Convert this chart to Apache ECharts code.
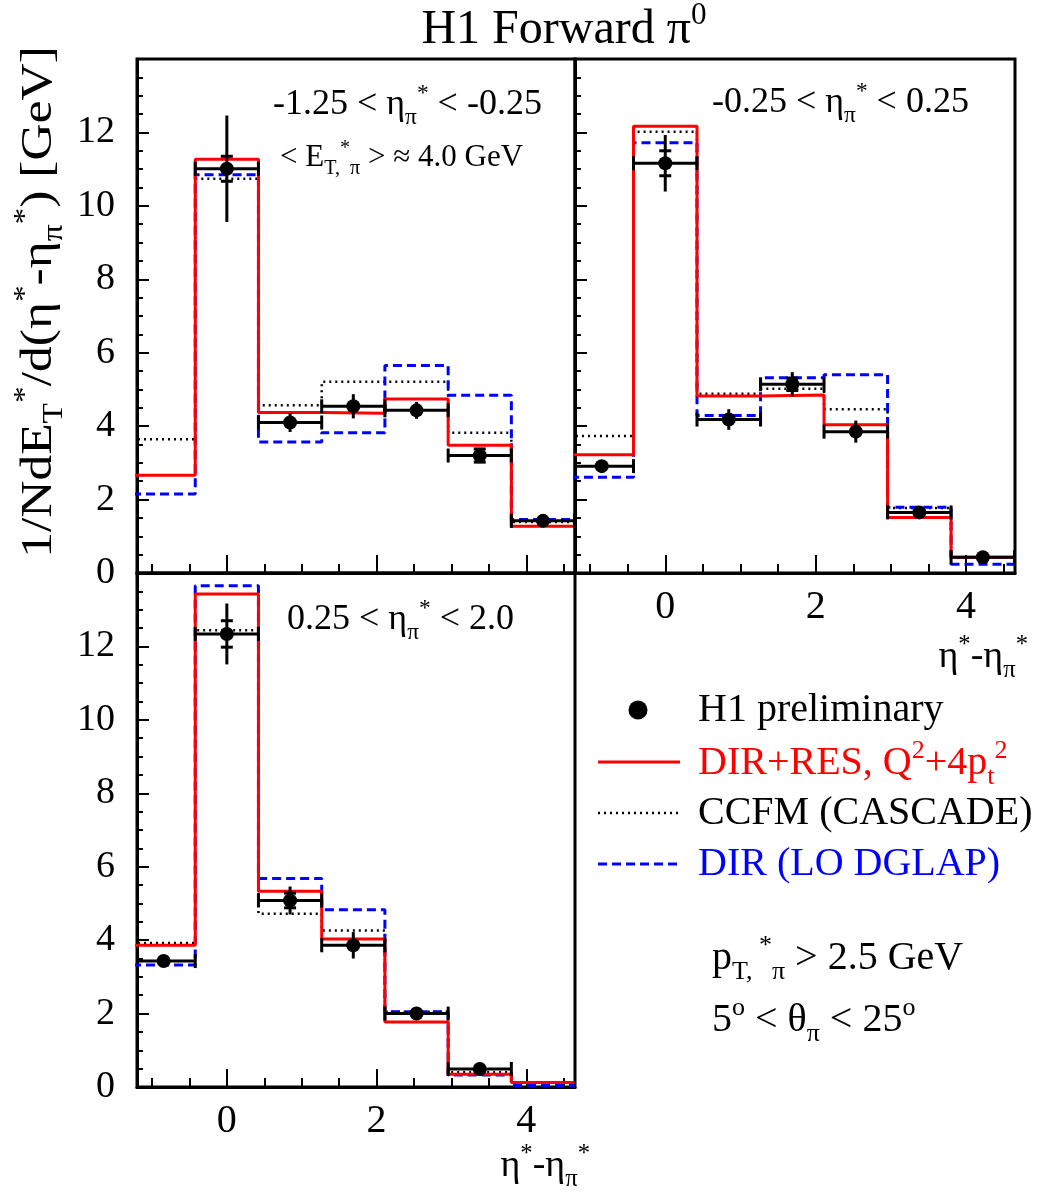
<!DOCTYPE html>
<html><head><meta charset="utf-8">
<script src="https://cdn.jsdelivr.net/npm/echarts@6/dist/echarts.min.js"></script>
<style>html,body{margin:0;padding:0;background:#fff}#c{width:1044px;height:1193px}</style>
</head><body><div id="c"></div>
<script>
// ---------- data ----------
const binEdges = [-1.267, -0.422, 0.422, 1.267, 2.111, 2.956, 3.8, 4.644];
const xMajorTicks = [0, 2, 4];
const xMinorTicks = [-1, -0.5, 0.5, 1, 1.5, 2.5, 3, 3.5, 4.5];
const yTickStep = 2;

// Panel A: -1.25 < eta_pi* < -0.25
const redA  = [2.66, 11.27, 4.37, 4.35, 4.74, 3.48, 1.27];
const ccfmA = [3.64, 10.74, 4.57, 5.21, 5.21, 3.82, 1.39];
const dirA  = [2.15, 10.85, 3.57, 3.82, 5.65, 4.84, 1.46];
const dataA = [null, 11.01, 4.10, 4.54, 4.43, 3.20, 1.42];
const totA  = [0, 1.45, 0.26, 0.33, 0.23, 0.20, 0.05];
const statA = [0, 0.34, 0, 0, 0, 0.18, 0];

// Panel B: -0.25 < eta_pi* < 0.25
const redB  = [3.22, 12.17, 4.82, 4.85, 4.04, 1.51, 0.43];
const ccfmB = [3.73, 12.02, 4.88, 5.02, 4.46, 1.77, 0.42];
const dirB  = [2.61, 11.72, 4.29, 5.32, 5.40, 1.79, 0.24];
const dataB = [2.91, 11.16, 4.18, 5.14, 3.85, 1.65, 0.43];
const totB  = [0.12, 0.77, 0.28, 0.33, 0.30, 0.12, 0.05];
const statB = [0, 0.34, 0, 0.17, 0, 0, 0];

// Panel C: 0.25 < eta_pi* < 2.0
const redC  = [3.86, 13.43, 5.33, 4.03, 1.77, 0.35, 0.12];
const ccfmC = [3.92, 12.44, 4.72, 4.26, 2.05, 0.40, 0.12];
const dirC  = [3.32, 13.65, 5.68, 4.83, 2.05, 0.33, 0.04];
const dataC = [3.43, 12.34, 5.08, 3.86, 2.00, 0.49, null];
const totC  = [0.12, 0.83, 0.38, 0.36, 0.12, 0.05, 0];
const statC = [0, 0.36, 0.20, 0, 0, 0, 0];

// ---------- build ----------
const FONT = "'Liberation Serif','Times New Roman',serif";
const panels = [
  {red: redA, ccfm: ccfmA, dir: dirA, data: dataA, tot: totA, stat: statA, grid: {left: 137, top: 59, width: 438, height: 514}, yLabels: true, xLabels: false},
  {red: redB, ccfm: ccfmB, dir: dirB, data: dataB, tot: totB, stat: statB, grid: {left: 575, top: 59, width: 440, height: 514}, yLabels: false, xLabels: true},
  {red: redC, ccfm: ccfmC, dir: dirC, data: dataC, tot: totC, stat: statC, grid: {left: 137, top: 573, width: 438, height: 514}, yLabels: true, xLabels: true}
];

function stepData(vals) {
  const d = vals.map((v, i) => [binEdges[i], v]);
  d.push([binEdges[binEdges.length - 1], vals[vals.length - 1]]);
  return d;
}
function centers() { return binEdges.slice(0, -1).map((e, i) => (e + binEdges[i + 1]) / 2); }

function errRender(params, api) {
  const x = api.value(0), y = api.value(1), xl = api.value(2), xh = api.value(3);
  const tl = api.value(4), th = api.value(5), sl = api.value(6), sh = api.value(7), hasStat = api.value(8);
  const pL = api.coord([xl, y]), pH = api.coord([xh, y]);
  const pTl = api.coord([x, tl]), pTh = api.coord([x, th]);
  const st = {stroke: '#000', lineWidth: 3};
  const ch = [
    {type: 'line', shape: {x1: pL[0], y1: pL[1], x2: pH[0], y2: pH[1]}, style: st},
    {type: 'line', shape: {x1: pL[0], y1: pL[1] - 7, x2: pL[0], y2: pL[1] + 7}, style: st},
    {type: 'line', shape: {x1: pH[0], y1: pH[1] - 7, x2: pH[0], y2: pH[1] + 7}, style: st},
    {type: 'line', shape: {x1: pTl[0], y1: pTl[1], x2: pTh[0], y2: pTh[1]}, style: st}
  ];
  if (hasStat) {
    const a = api.coord([x, sl]), b = api.coord([x, sh]);
    ch.push({type: 'line', shape: {x1: a[0] - 6, y1: a[1], x2: a[0] + 6, y2: a[1]}, style: st});
    ch.push({type: 'line', shape: {x1: b[0] - 6, y1: b[1], x2: b[0] + 6, y2: b[1]}, style: st});
  }
  return {type: 'group', children: ch};
}

const grids = [], xAxes = [], yAxes = [], series = [];
const axLine = {show: true, onZero: false, lineStyle: {color: '#000', width: 3}};
const tickStyle = {color: '#000', width: 2};
panels.forEach((p, i) => {
  grids.push(Object.assign({show: true, borderColor: '#000', borderWidth: 3, backgroundColor: 'transparent', outerBoundsMode: 'none'}, p.grid));
  xAxes.push({gridIndex: i, type: 'value', min: -1.2, max: 4.65, position: 'bottom',
    axisLine: axLine, splitLine: {show: false},
    axisTick: {show: true, inside: true, length: 18, customValues: xMajorTicks, lineStyle: tickStyle},
    axisLabel: {show: p.xLabels, customValues: xMajorTicks, margin: 14, fontSize: 40, color: '#000', fontFamily: FONT}});
  xAxes.push({gridIndex: i, type: 'value', min: -1.2, max: 4.65, position: 'bottom',
    axisLine: {show: false, onZero: false}, splitLine: {show: false},
    axisTick: {show: true, inside: true, length: 9, customValues: xMinorTicks, lineStyle: tickStyle},
    axisLabel: {show: false}});
  yAxes.push({gridIndex: i, type: 'value', min: 0, max: 14, interval: yTickStep,
    axisLine: axLine, splitLine: {show: false}, minorSplitLine: {show: false},
    axisTick: {show: true, inside: true, length: 12, lineStyle: tickStyle},
    minorTick: {show: true, splitNumber: 4, length: 6, lineStyle: tickStyle},
    axisLabel: {show: p.yLabels, margin: 22, fontSize: 38, color: '#000', fontFamily: FONT,
      formatter: v => (v > 13 ? '' : String(v))}});
  const base = {xAxisIndex: 2 * i, yAxisIndex: i, animation: false};
  series.push(Object.assign({type: 'line', step: 'end', symbol: 'none', z: 2, data: stepData(p.ccfm),
    lineStyle: {color: '#000', width: 2.5, type: [2, 4]}}, base));
  series.push(Object.assign({type: 'line', step: 'end', symbol: 'none', z: 3, data: stepData(p.dir),
    lineStyle: {color: '#0000ff', width: 3, type: [9, 5]}}, base));
  series.push(Object.assign({type: 'line', step: 'end', symbol: 'none', z: 4, data: stepData(p.red),
    lineStyle: {color: '#ff0000', width: 3}}, base));
  const c = centers();
  const errData = [], ptData = [];
  p.data.forEach((v, k) => {
    if (v === null) return;
    errData.push([c[k], v, binEdges[k], binEdges[k + 1], v - p.tot[k], v + p.tot[k], v - p.stat[k], v + p.stat[k], p.stat[k] > 0 ? 1 : 0]);
    ptData.push([c[k], v]);
  });
  series.push(Object.assign({type: 'custom', z: 5, clip: true, renderItem: errRender, data: errData}, base));
  series.push(Object.assign({type: 'scatter', z: 6, symbol: 'circle', symbolSize: 14, itemStyle: {color: '#000', opacity: 1}, data: ptData}, base));
});

// ---------- rich text helpers ----------
function rich(F, color) {
  return {
    m: {fontSize: F, lineHeight: 1.2 * F, fontFamily: FONT, fill: color, color: color},
    sup: {fontSize: 0.65 * F, verticalAlign: 'top', height: 0.6 * F, fontFamily: FONT, fill: color, color: color},
    sub: {fontSize: 0.65 * F, verticalAlign: 'bottom', height: 0.5 * F, fontFamily: FONT, fill: color, color: color}
  };
}
function txt(x, y, text, F, color, align, rot, sx) {
  return {type: 'text', x: x, y: y, rotation: rot || 0, scaleX: sx || 1, z: 100,
    style: {text: text, rich: rich(F, color), fill: color, font: F + 'px ' + FONT, align: align || 'left', verticalAlign: 'middle'}};
}

const graphics = [
  txt(564, 30, '{m|H1 Forward π}{sup|0}', 48, '#000', 'center'),
  txt(39, 302, '{m|1/NdE}{sub|T}{sup|*}{m|/d(η}{sup|*}{m|-η}{sub|π}{sup|*}{m|) [GeV]}', 44, '#000', 'center', Math.PI / 2, 1.17),
  txt(273, 105, '{m|-1.25 < η}{sub|π}{sup|*}{m| < -0.25}', 36, '#000', 'left'),
  txt(280, 158, '{m|< E}{sub|T,}{sup|*}{sub|π}{m| > ≈ 4.0 GeV}', 31, '#000', 'left'),
  txt(712, 103, '{m|-0.25 < η}{sub|π}{sup|*}{m| < 0.25}', 36, '#000', 'left'),
  txt(287, 620, '{m|0.25 < η}{sub|π}{sup|*}{m| < 2.0}', 36, '#000', 'left'),
  txt(1028, 657, '{m|η}{sup|*}{m|-η}{sub|π}{sup|*}', 38, '#000', 'right'),
  txt(590, 1166, '{m|η}{sup|*}{m|-η}{sub|π}{sup|*}', 38, '#000', 'right'),
  // legend
  {type: 'circle', shape: {cx: 638, cy: 710, r: 9.5}, style: {fill: '#000'}, z: 100},
  txt(698, 710, '{m|H1 preliminary}', 40, '#000', 'left'),
  {type: 'line', shape: {x1: 598, y1: 762, x2: 680, y2: 762}, style: {stroke: '#ff0000', lineWidth: 3}, z: 100},
  txt(698, 763, '{m|DIR+RES, Q}{sup|2}{m|+4p}{sub|t}{sup|2}', 40, '#ff0000', 'left'),
  {type: 'line', shape: {x1: 598, y1: 813, x2: 680, y2: 813}, style: {stroke: '#000', lineWidth: 2.5, lineDash: [2, 4]}, z: 100},
  txt(698, 813, '{m|CCFM (CASCADE)}', 40, '#000', 'left'),
  {type: 'line', shape: {x1: 598, y1: 864, x2: 680, y2: 864}, style: {stroke: '#0000ff', lineWidth: 3, lineDash: [9, 5]}, z: 100},
  txt(698, 864, '{m|DIR (LO DGLAP)}', 40, '#0000ff', 'left'),
  txt(712, 958, '{m|p}{sub|T, }{sup|*}{sub|π}{m| > 2.5 GeV}', 40, '#000', 'left'),
  txt(712, 1020, '{m|5}{sup|o}{m| < θ}{sub|π}{m| < 25}{sup|o}', 40, '#000', 'left')
];

const chart = echarts.init(document.getElementById('c'), null, {renderer: 'canvas'});
chart.setOption({
  animation: false,
  backgroundColor: '#fff',
  grid: grids, xAxis: xAxes, yAxis: yAxes, series: series,
  graphic: graphics
});
</script></body></html>
